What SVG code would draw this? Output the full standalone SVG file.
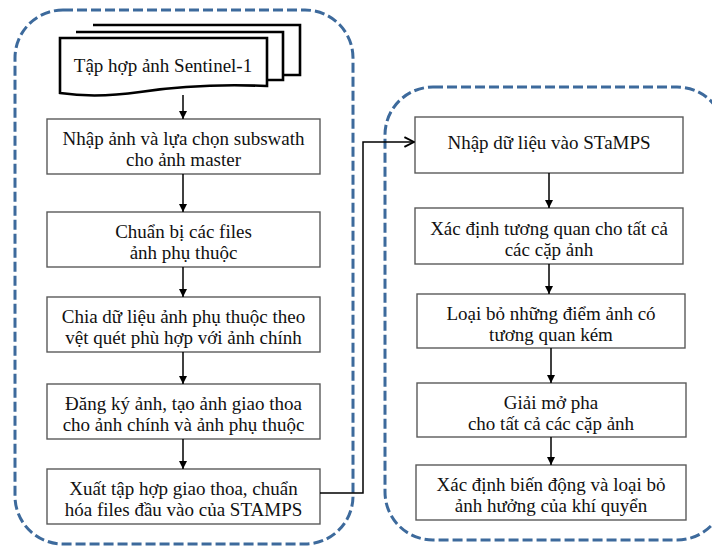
<svg xmlns="http://www.w3.org/2000/svg" width="712" height="549" viewBox="0 0 712 549">
<style>
.cont{fill:none;stroke:#3d6a9c;stroke-width:3;stroke-dasharray:10 4}
.box{fill:#fff;stroke:#5a5a5a;stroke-width:1.4}
.doc{fill:#fff;stroke:#000;stroke-width:2.6;stroke-linejoin:miter}
.t{font-family:"Liberation Serif","DejaVu Serif","Times New Roman",serif;font-size:19px;fill:#111;text-anchor:middle;dominant-baseline:central}
.c{fill:none;stroke:#000;stroke-width:1.5}
</style>
<defs>
<marker id="ah" viewBox="0 0 10 10" refX="10" refY="5" markerWidth="8" markerHeight="8" markerUnits="userSpaceOnUse" orient="auto"><path d="M0,0 L10,5 L0,10 z" fill="#000"/></marker>
<marker id="oa" viewBox="0 0 10 10" refX="9" refY="5" markerWidth="12" markerHeight="12" markerUnits="userSpaceOnUse" orient="auto"><path d="M1,1 L9,5 L1,9" fill="none" stroke="#000" stroke-width="1.6"/></marker>
</defs>
<rect class="cont" x="15" y="10" width="338" height="534" rx="48" ry="48"/>
<rect class="cont" x="385" y="87" width="340" height="453" rx="48" ry="48"/>

<g id="n0">
<path class="doc" d="M93,25 H300 V75 H283"/>
<path class="doc" d="M76,32 H283 V80 H267"/>
<path class="doc" d="M60,38 H267 V86 C220,84 180,86 140,92 C105,97 80,96 60,93 Z"/>
<text class="t" x="163" y="65">Tập hợp ảnh Sentinel-1</text>
</g>
<g id="n1"><rect class="box" x="47" y="119" width="273" height="55"/>
<text class="t" x="183.5" y="138">Nhập ảnh và lựa chọn subswath</text>
<text class="t" x="183.5" y="159">cho ảnh master</text></g>
<g id="n2"><rect class="box" x="47" y="212" width="273" height="55"/>
<text class="t" x="183.5" y="231">Chuẩn bị các files</text>
<text class="t" x="183.5" y="252">ảnh phụ thuộc</text></g>
<g id="n3"><rect class="box" x="47" y="297" width="273" height="55"/>
<text class="t" x="183.5" y="316">Chia dữ liệu ảnh phụ thuộc theo</text>
<text class="t" x="183.5" y="337">vệt quét phù hợp với ảnh chính</text></g>
<g id="n4"><rect class="box" x="47" y="384" width="273" height="55"/>
<text class="t" x="183.5" y="403">Đăng ký ảnh, tạo ảnh giao thoa</text>
<text class="t" x="183.5" y="424">cho ảnh chính và ảnh phụ thuộc</text></g>
<g id="n5"><rect class="box" x="47" y="469" width="273" height="55"/>
<text class="t" x="183.5" y="488">Xuất tập hợp giao thoa, chuẩn</text>
<text class="t" x="183.5" y="509">hóa files đầu vào của STAMPS</text></g>

<g id="r1"><rect class="box" x="415" y="117" width="268" height="56"/>
<text class="t" x="549" y="142">Nhập dữ liệu vào STaMPS</text></g>
<g id="r2"><rect class="box" x="415" y="208" width="268" height="56"/>
<text class="t" x="549" y="228">Xác định tương quan cho tất cả</text>
<text class="t" x="549" y="249">các cặp ảnh</text></g>
<g id="r3"><rect class="box" x="417" y="294" width="268" height="54"/>
<text class="t" x="551" y="313">Loại bỏ những điểm ảnh có</text>
<text class="t" x="551" y="334">tương quan kém</text></g>
<g id="r4"><rect class="box" x="417" y="383" width="269" height="54"/>
<text class="t" x="551" y="402">Giải mở pha</text>
<text class="t" x="551" y="423">cho tất cả các cặp ảnh</text></g>
<g id="r5"><rect class="box" x="416" y="465" width="270" height="55"/>
<text class="t" x="551" y="484">Xác định biến động và loại bỏ</text>
<text class="t" x="551" y="505">ảnh hưởng của khí quyển</text></g>

<g id="connectors">
<line class="c" x1="183" y1="95" x2="183" y2="119" marker-end="url(#ah)"/>
<line class="c" x1="183" y1="174" x2="183" y2="212" marker-end="url(#ah)"/>
<line class="c" x1="183" y1="267" x2="183" y2="297" marker-end="url(#ah)"/>
<line class="c" x1="183" y1="352" x2="183" y2="384" marker-end="url(#ah)"/>
<line class="c" x1="183" y1="439" x2="183" y2="469" marker-end="url(#ah)"/>
<polyline class="c" points="320,493 363,493 363,142 414,142" marker-end="url(#oa)"/>
<line class="c" x1="549" y1="173" x2="549" y2="208" marker-end="url(#ah)"/>
<line class="c" x1="549" y1="264" x2="549" y2="294" marker-end="url(#ah)"/>
<line class="c" x1="551" y1="348" x2="551" y2="383" marker-end="url(#ah)"/>
<line class="c" x1="551" y1="437" x2="551" y2="465" marker-end="url(#ah)"/>
</g>
</svg>
